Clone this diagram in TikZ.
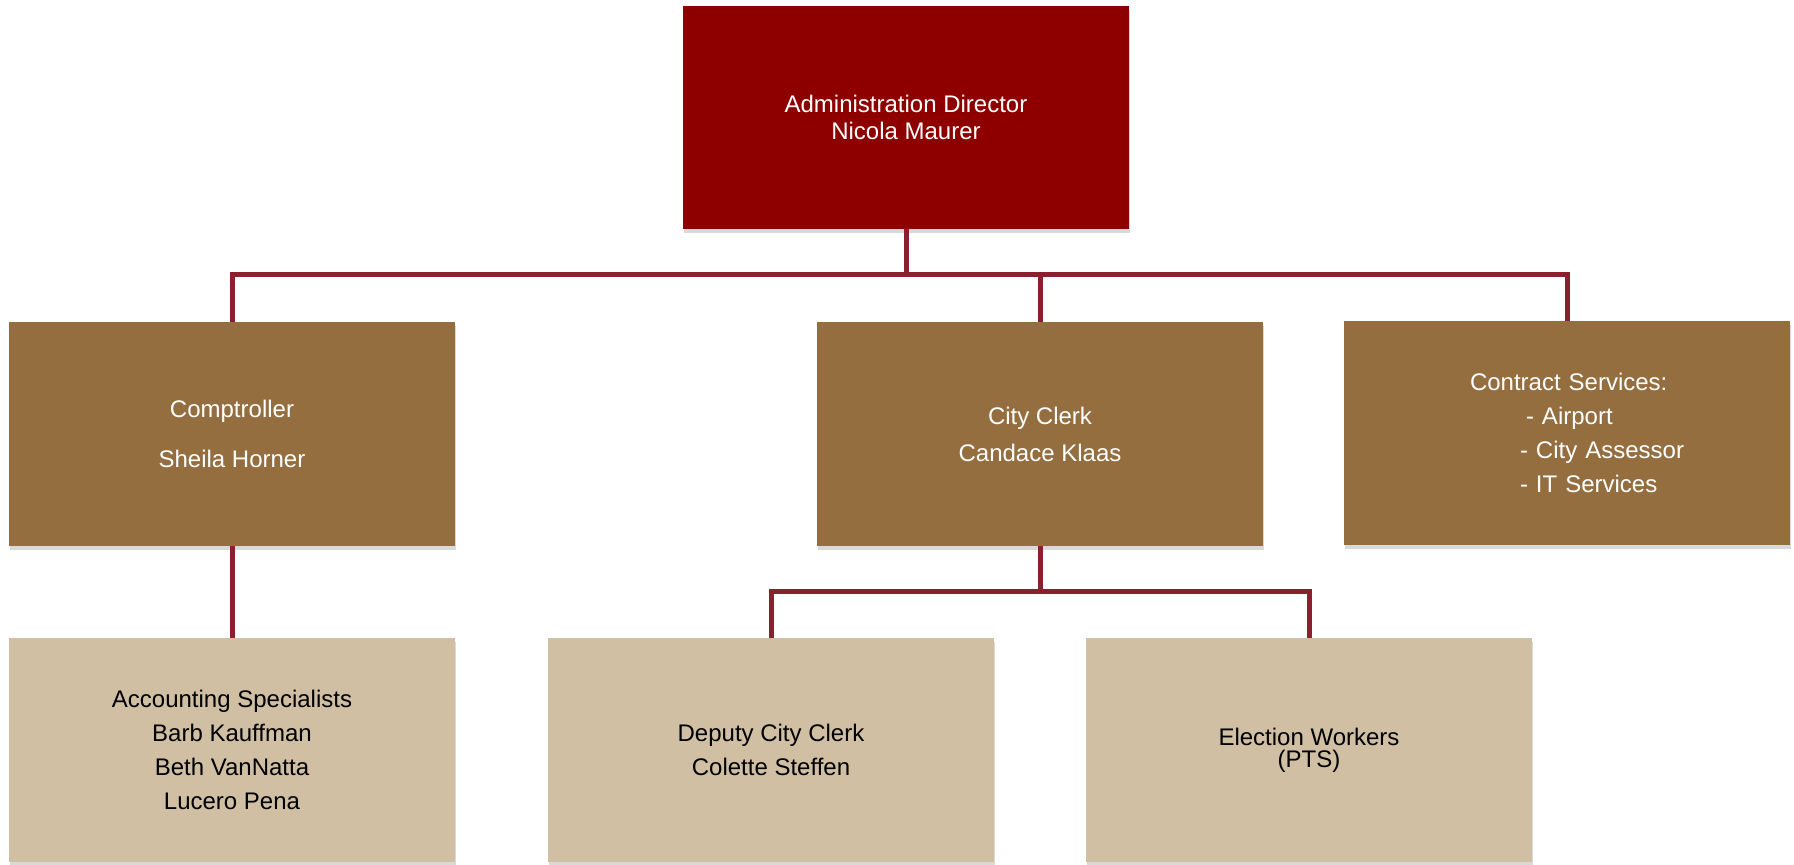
\documentclass[tikz,border=0pt]{standalone}
\usepackage{fontspec}
\setmainfont{Liberation Sans}
\usetikzlibrary{shadows}
\definecolor{dirred}{HTML}{8E0000}
\definecolor{midbrown}{HTML}{946E3F}
\definecolor{lowtan}{HTML}{D0BFA3}
\definecolor{linkred}{HTML}{8A1F2E}
\begin{document}
\begin{tikzpicture}[x=0.5pt,y=0.5pt,
        box/.style={rectangle,inner sep=0pt,minimum width=223pt,
          minimum height=112pt,align=center,font=\fontsize{12}{17}\selectfont,
          drop shadow={shadow xshift=0.6pt,shadow yshift=-1.8pt,opacity=0.3}},
        topbox/.style={box,fill=dirred,text=white,minimum height=111.5pt,
          font=\fontsize{12}{13.5}\selectfont},
        midbox/.style={box,fill=midbrown,text=white},
        lowbox/.style={box,fill=lowtan,text=black},
        link/.style={draw=linkred,line width=2.5pt}]
      \useasboundingbox (0,0) rectangle (1794,865);
      \node (dir) at (906,747.5) [topbox] {Administration Director\\Nicola Maurer};
      \node (comp) at (232,431) [midbox] {Comptroller\\[8pt]Sheila Horner};
      \node (clerk) at (1040,431) [midbox] {City Clerk\\[1.5pt]Candace Klaas};
      \node (contract) at (1567,432) [midbox,align=left,text width=223pt]
        {\hspace*{63pt}Contract Services:\\
         \hspace*{91pt}- Airport\\
         \hspace*{88pt}- City Assessor\\
         \hspace*{88pt}- IT Services};
      \node (acct) at (232,115) [lowbox] {Accounting Specialists\\Barb Kauffman\\Beth VanNatta\\Lucero Pena};
      \node (deputy) at (771,115) [lowbox] {Deputy City Clerk\\Colette Steffen};
      \node (elect) at (1309,115) [lowbox] {Election Workers\\[-6pt](PTS)};
      \coordinate (topbus) at (906,590);
      \coordinate (clerkbus) at (1040,273);
      \draw[link] (dir) -- (topbus) -| (comp);
      \draw[link] (topbus) -| (clerk);
      \draw[link] (topbus) -| (contract);
      \draw[link] (comp) -- (acct);
      \draw[link] (clerk) -- (clerkbus) -| (deputy);
      \draw[link] (clerkbus) -| (elect);
\end{tikzpicture}
\end{document}
